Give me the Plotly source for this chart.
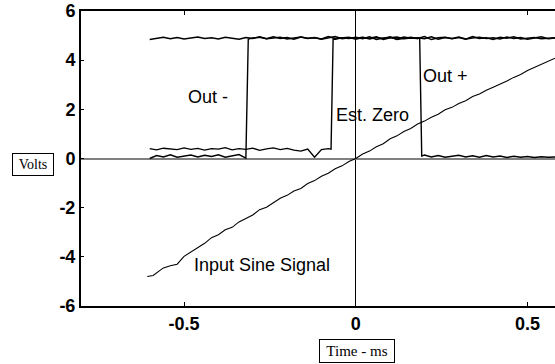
import plotly.graph_objects as go

# Shared time base (ms)
t = [-0.60, -0.58, -0.56, -0.54, -0.52, -0.50, -0.48, -0.46, -0.44, -0.42,
     -0.40, -0.38, -0.36, -0.34, -0.32, -0.30, -0.28, -0.26, -0.24, -0.22,
     -0.20, -0.18, -0.16, -0.14, -0.12, -0.10, -0.08, -0.06, -0.04, -0.02,
     0.00, 0.02, 0.04, 0.06, 0.08, 0.10, 0.12, 0.14, 0.16, 0.18,
     0.20, 0.22, 0.24, 0.26, 0.28, 0.30, 0.32, 0.34, 0.36, 0.38,
     0.40, 0.42, 0.44, 0.46, 0.48, 0.50, 0.52, 0.54, 0.56, 0.58]

# Output trace switching at about -0.32 ms
out_a = [0.00, 0.12, 0.06, 0.15, 0.05, 0.10, 0.14, 0.06, 0.13, 0.08,
         0.15, 0.05, 0.12, 0.16, 0.02, 4.90, 4.93, 4.87, 4.95, 4.88,
         4.92, 4.85, 4.94, 4.89, 4.91, 4.86, 4.96, 4.88, 4.90, 4.93,
         4.85, 4.92, 4.89, 4.95, 4.84, 4.91, 4.94, 4.87, 4.90, 4.88,
         4.96, 4.84, 4.91, 4.93, 4.87, 4.92, 4.85, 4.96, 4.88, 4.91,
         4.84, 4.93, 4.89, 4.95, 4.86, 4.90, 4.92, 4.87, 4.90, 4.91]
edge_a_t = [-0.32, -0.313]
edge_a_v = [0.02, 4.86]

# Output trace switching at about -0.07 ms
out_b = [0.40, 0.35, 0.42, 0.38, 0.36, 0.43, 0.37, 0.41, 0.34, 0.40,
         0.38, 0.44, 0.35, 0.40, 0.37, 0.42, 0.33, 0.39, 0.43, 0.36,
         0.41, 0.34, 0.30, 0.38, 0.05, 0.36, 0.40, 4.85, 4.91, 4.88,
         4.93, 4.87, 4.95, 4.84, 4.90, 4.92, 4.86, 4.94, 4.89, 4.91,
         4.87, 4.95, 4.85, 4.92, 4.88, 4.94, 4.86, 4.90, 4.93, 4.88,
         4.91, 4.86, 4.94, 4.88, 4.92, 4.85, 4.90, 4.95, 4.87, 4.90]
edge_b_t = [-0.072, -0.066]
edge_b_v = [0.38, 4.86]

# Output trace falling at about +0.19 ms
out_c = [4.84, 4.88, 4.93, 4.87, 4.92, 4.86, 4.90, 4.94, 4.88, 4.91,
         4.86, 4.93, 4.89, 4.85, 4.92, 4.88, 4.95, 4.87, 4.90, 4.93,
         4.86, 4.91, 4.94, 4.88, 4.92, 4.85, 4.90, 4.96, 4.87, 4.91,
         4.89, 4.93, 4.86, 4.92, 4.88, 4.95, 4.84, 4.90, 4.93, 4.88,
         0.14, 0.06, 0.12, 0.05, 0.10, 0.13, 0.06, 0.11, 0.05, 0.12,
         0.06, 0.10, 0.04, 0.09, 0.05, 0.08, 0.04, 0.07, 0.05, 0.06]
edge_c_t = [0.186, 0.192]
edge_c_v = [4.90, 0.10]

# Input sine signal
sine_t = [-0.607, -0.59, -0.57, -0.56, -0.54, -0.52, -0.50, -0.48, -0.46, -0.44,
          -0.42, -0.40, -0.38, -0.36, -0.34, -0.32, -0.30, -0.28, -0.26, -0.24,
          -0.22, -0.20, -0.18, -0.16, -0.14, -0.12, -0.10, -0.08, -0.06, -0.04,
          -0.02, 0.00, 0.02, 0.04, 0.06, 0.08, 0.10, 0.12, 0.14, 0.16,
          0.18, 0.20, 0.22, 0.24, 0.26, 0.28, 0.30, 0.32, 0.34, 0.36,
          0.38, 0.40, 0.42, 0.44, 0.46, 0.48, 0.50, 0.52, 0.54, 0.56, 0.58]
sine_v = [-4.80, -4.76, -4.55, -4.45, -4.36, -4.30, -3.98, -3.80, -3.62, -3.45,
          -3.22, -3.10, -2.90, -2.80, -2.58, -2.45, -2.30, -2.08, -1.98, -1.80,
          -1.62, -1.50, -1.32, -1.22, -1.02, -0.90, -0.72, -0.60, -0.42, -0.30,
          -0.12, 0.00, 0.18, 0.30, 0.48, 0.60, 0.80, 0.92, 1.10, 1.22,
          1.40, 1.52, 1.68, 1.80, 1.98, 2.08, 2.24, 2.35, 2.52, 2.62,
          2.78, 2.90, 3.02, 3.15, 3.30, 3.42, 3.58, 3.70, 3.82, 3.95, 4.08]

x_ticks = [-0.5, 0, 0.5]
x_tick_text = ["-0.5", "0", "0.5"]
y_ticks = [-6, -4, -2, 0, 2, 4, 6]
y_tick_text = ["-6", "-4", "-2", "0", "2", "4", "6"]


def with_edge(base_t, base_v, et, ev):
    xs, ys = [], []
    inserted = False
    for x, y in zip(base_t, base_v):
        if not inserted and x > et[0]:
            for a, b in zip(et, ev):
                if a not in xs:
                    xs.append(a)
                    ys.append(b)
            inserted = True
        if x in et:
            continue
        xs.append(x)
        ys.append(y)
    return xs, ys


fig = go.Figure()
sq_line = dict(color="black", width=1.4)
for base, et, ev in [(out_a, edge_a_t, edge_a_v), (out_b, edge_b_t, edge_b_v), (out_c, edge_c_t, edge_c_v)]:
    xs, ys = with_edge(t, base, et, ev)
    fig.add_trace(go.Scatter(x=xs, y=ys, mode="lines", line=sq_line, showlegend=False))

fig.add_trace(go.Scatter(x=sine_t, y=sine_v, mode="lines",
                         line=dict(color="black", width=1.1), showlegend=False))

sans = "Liberation Sans, Arial, sans-serif"
serif = "Liberation Serif, Times New Roman, serif"

fig.update_layout(
    width=555, height=364,
    margin=dict(l=81, r=0, t=11, b=58),
    paper_bgcolor="white", plot_bgcolor="white",
    showlegend=False,
    font=dict(family=sans, color="black"),
    xaxis=dict(range=[-0.8, 0.58], tickvals=x_ticks, ticktext=x_tick_text,
               showgrid=False, showline=True, linecolor="black", linewidth=2,
               mirror="ticks", ticks="inside", ticklen=4, tickwidth=1, tickcolor="black",
               zeroline=True, zerolinecolor="black", zerolinewidth=1,
               tickfont=dict(family=sans, size=18, color="black", weight="bold")),
    yaxis=dict(range=[-6, 6], tickvals=y_ticks, ticktext=y_tick_text,
               showgrid=False, showline=True, linecolor="black", linewidth=2,
               mirror=False, ticks="inside", ticklen=3, tickwidth=1, tickcolor="black",
               zeroline=True, zerolinecolor="#808080", zerolinewidth=1.5,
               tickfont=dict(family=sans, size=18, color="black", weight="bold")),
)

labels = [("Out -", -0.43, 2.5), ("Est. Zero", 0.049, 1.78),
          ("Out +", 0.262, 3.36), ("Input Sine Signal", -0.273, -4.33)]
for txt, x, y in labels:
    fig.add_annotation(x=x, y=y, xref="x", yref="y", text=txt, showarrow=False,
                       font=dict(family=sans, size=18, color="black"),
                       xanchor="center", yanchor="middle")

fig.add_annotation(x=-0.101, y=0.4797, xref="paper", yref="paper", text="Volts",
                   showarrow=False, font=dict(family=serif, size=14, color="black"),
                   bordercolor="black", borderwidth=1, borderpad=2, width=36, height=17,
                   bgcolor="white", xanchor="center", yanchor="middle")
fig.add_annotation(x=0.5823, y=-0.1525, xref="paper", yref="paper", text="Time - ms",
                   showarrow=False, font=dict(family=serif, size=15, color="black"),
                   bordercolor="black", borderwidth=1, borderpad=2, width=70, height=18,
                   bgcolor="white", xanchor="center", yanchor="middle")

fig.write_html("out.html")
